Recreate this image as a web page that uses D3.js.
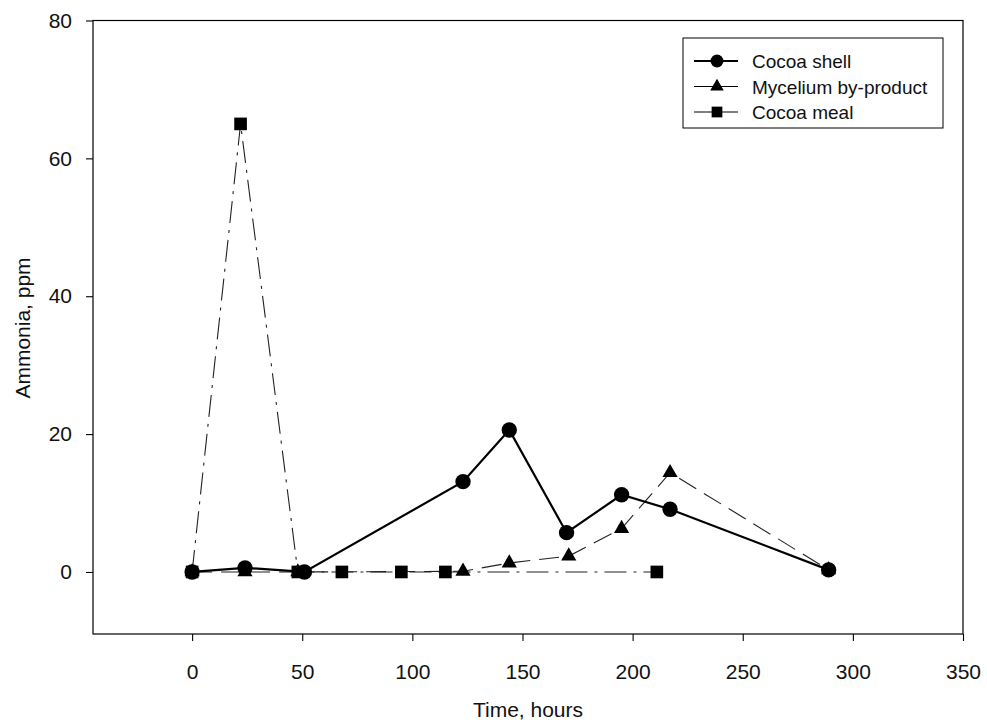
<!DOCTYPE html>
<html>
<head>
<meta charset="utf-8">
<script src="https://cdn.jsdelivr.net/npm/d3@7/dist/d3.min.js"></script>
<style>
  body { margin: 0; background: #fff; }
  svg { display: block; font-family: "Liberation Sans", Arial, sans-serif; }
</style>
</head>
<body>
<svg id="chart" width="987" height="724"></svg>
<script>
// Ammonia emission over time for three substrates
const xTicks = [0, 50, 100, 150, 200, 250, 300, 350];
const yTicks = [0, 20, 40, 60, 80];

const cocoaShellTime = [0, 24, 51, 123, 144, 170, 195, 217, 289];
const cocoaShellNH3  = [0, 0.6, 0, 13.1, 20.6, 5.7, 11.2, 9.1, 0.3];

const myceliumTime = [0, 24, 48, 123, 144, 171, 195, 217, 289];
const myceliumNH3  = [0, 0, 0, 0.1, 1.3, 2.3, 6.3, 14.4, 0.3];

const cocoaMealTime = [0, 22, 48, 68, 95, 115, 211];
const cocoaMealNH3  = [0, 65, 0, 0, 0, 0, 0];

const seriesNames = ["Cocoa shell", "Mycelium by-product", "Cocoa meal"];

const series = [
  { name: seriesNames[0], t: cocoaShellTime, v: cocoaShellNH3, symbol: d3.symbolCircle, size: 185, legendSize: 130, dash: null, width: 2.2, stroke: "#000" },
  { name: seriesNames[1], t: myceliumTime, v: myceliumNH3, symbol: d3.symbolTriangle, size: 100, legendSize: 80, dash: "20,9", width: 1.1, stroke: "#222" },
  { name: seriesNames[2], t: cocoaMealTime, v: cocoaMealNH3, symbol: d3.symbolSquare, size: 160, legendSize: 115, dash: "22,7,3,7", width: 1.1, stroke: "#222" }
];

const svg = d3.select("#chart");
const plotLeft = 93, plotRight = 963, plotTop = 20.5, plotBottom = 634;

const x = d3.scaleLinear().domain([-45, 350]).range([plotLeft, plotRight]);
const y = d3.scaleLinear().domain([-9, 80]).range([plotBottom, plotTop]);

// frame
svg.append("rect")
  .attr("x", plotLeft).attr("y", plotTop)
  .attr("width", plotRight - plotLeft).attr("height", plotBottom - plotTop)
  .attr("fill", "none").attr("stroke", "#000").attr("stroke-width", 1.2);

// axes
const xAxis = svg.append("g")
  .attr("transform", `translate(0,${plotBottom})`)
  .call(d3.axisBottom(x).tickValues(xTicks).tickSize(7).tickPadding(23).tickFormat(d3.format("d")));
const yAxis = svg.append("g")
  .attr("transform", `translate(${plotLeft},0)`)
  .call(d3.axisLeft(y).tickValues(yTicks).tickSize(7).tickPadding(14).tickFormat(d3.format("d")));

[xAxis, yAxis].forEach(g => {
  g.select(".domain").remove();
  g.selectAll(".tick line").attr("stroke", "#000").attr("stroke-width", 1.1);
  g.selectAll(".tick text")
    .attr("fill", "#111")
    .style("font-size", "21px")
    .style("font-family", "'Liberation Sans', Arial, sans-serif");
});

// axis titles
svg.append("text")
  .attr("x", 528).attr("y", 717)
  .attr("text-anchor", "middle")
  .style("font-size", "21px").attr("fill", "#111")
  .text("Time, hours");

svg.append("text")
  .attr("transform", `translate(30,328) rotate(-90)`)
  .attr("text-anchor", "middle")
  .style("font-size", "21px").attr("fill", "#111")
  .text("Ammonia, ppm");

// lines (drawn bottom-up so the solid series stays on top)
const line = d3.line().x(d => x(d[0])).y(d => y(d[1]));
const drawOrder = [2, 1, 0];
drawOrder.forEach(i => {
  const s = series[i];
  const pts = s.t.map((t, k) => [t, s.v[k]]);
  svg.append("path")
    .datum(pts)
    .attr("d", line)
    .attr("fill", "none")
    .attr("stroke", s.stroke)
    .attr("stroke-width", s.width)
    .attr("stroke-dasharray", s.dash);
});
drawOrder.forEach(i => {
  const s = series[i];
  const pts = s.t.map((t, k) => [t, s.v[k]]);
  svg.append("g").selectAll("path")
    .data(pts)
    .join("path")
    .attr("transform", d => `translate(${x(d[0])},${y(d[1])})`)
    .attr("d", d3.symbol().type(s.symbol).size(s.size))
    .attr("fill", "#000");
});

// legend
const lg = svg.append("g").attr("transform", "translate(683,38)");
lg.append("rect")
  .attr("width", 260).attr("height", 90)
  .attr("fill", "#fff").attr("stroke", "#000").attr("stroke-width", 1);
series.forEach((s, i) => {
  const yy = 23 + i * 25.5;
  lg.append("line")
    .attr("x1", 11).attr("x2", 55).attr("y1", yy).attr("y2", yy)
    .attr("stroke", "#000").attr("stroke-width", i === 0 ? 2 : 1.2);
  lg.append("path")
    .attr("transform", `translate(34,${yy})`)
    .attr("d", d3.symbol().type(s.symbol).size(s.legendSize))
    .attr("fill", "#000");
  lg.append("text")
    .attr("x", 69).attr("y", yy + 7)
    .style("font-size", "19px").attr("fill", "#111")
    .text(s.name);
});
</script>
</body>
</html>
